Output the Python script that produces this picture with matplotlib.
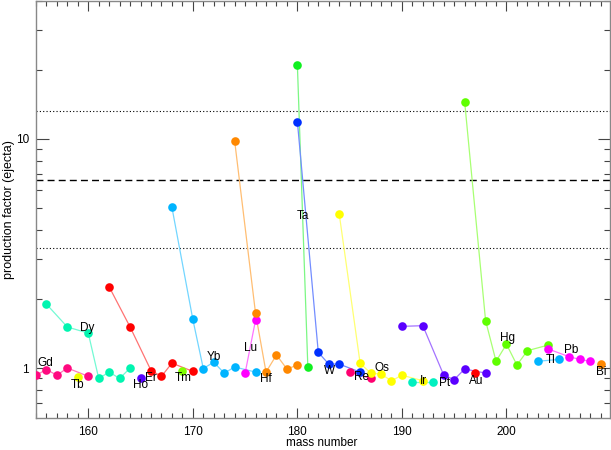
import matplotlib
matplotlib.use("Agg")
import matplotlib.pyplot as plt
import matplotlib.colors as mcolors
from matplotlib.ticker import FixedLocator, LogLocator, NullFormatter, MultipleLocator
import numpy as np

# element data: mass numbers and production factors
elements = ["Gd", "Tb", "Dy", "Ho", "Er", "Tm", "Yb", "Lu", "Hf", "Ta",
            "W", "Re", "Os", "Ir", "Pt", "Au", "Hg", "Tl", "Pb", "Bi"]

masses = [
    [155, 156, 157, 158, 160],
    [159],
    [156, 158, 160, 161, 162, 163, 164],
    [165],
    [162, 164, 166, 167, 168, 170],
    [169],
    [168, 170, 171, 172, 173, 174, 176],
    [175, 176],
    [174, 176, 177, 178, 179, 180],
    [180, 181],
    [180, 182, 183, 184, 186],
    [185, 187],
    [184, 186, 187, 188, 189, 190, 192],
    [191, 193],
    [190, 192, 194, 195, 196, 198],
    [197],
    [196, 198, 199, 200, 201, 202, 204],
    [203, 205],
    [204, 206, 207, 208],
    [209],
]

factors = [
    [0.93, 0.985, 0.93, 1.0, 0.92],
    [0.915],
    [1.90, 1.51, 1.42, 0.90, 0.96, 0.90, 1.0],
    [0.90],
    [2.26, 1.51, 0.975, 0.92, 1.05, 0.967],
    [0.975],
    [5.03, 1.63, 0.995, 1.06, 0.95, 1.01, 0.96],
    [0.95, 1.62],
    [9.8, 1.73, 0.96, 1.14, 0.99, 1.03],
    [21.0, 1.01],
    [11.9, 1.17, 1.04, 1.04, 0.96],
    [0.96, 0.90],
    [4.71, 1.05, 0.95, 0.94, 0.88, 0.93, 0.88],
    [0.87, 0.87],
    [1.52, 1.53, 0.93, 0.89, 0.99, 0.95],
    [0.95],
    [14.5, 1.61, 1.07, 1.27, 1.03, 1.19, 1.26],
    [1.07, 1.09],
    [1.21, 1.12, 1.09, 1.07],
    [1.04],
]

colors = ["#ff0a80", "#eeff00", "#00f5b0", "#5500ff", "#ff0000", "#80ff00",
          "#00b4ff", "#ff00ff", "#ff8800", "#10f020", "#0030ff", "#ff0070",
          "#ffff00", "#00f0c0", "#5a00ff", "#ff0000", "#60ff00", "#00b4ff",
          "#ff00ff", "#ff8800"]

# where each element name sits (mass, factor)
label_x = [155.9, 159.0, 159.9, 165.0, 166.0, 169.05, 172.05, 175.5, 177.0, 180.5,
           183.1, 186.1, 188.1, 192.1, 194.1, 197.15, 200.1, 204.2, 206.15, 209.1]
label_y = [1.05, 0.842, 1.50, 0.842, 0.903, 0.903, 1.114, 1.22, 0.895, 4.60,
           0.968, 0.912, 1.0, 0.877, 0.86, 0.877, 1.35, 1.08, 1.20, 0.964]

ref_level = 6.65

fig = plt.figure(figsize=(6.11, 4.5), dpi=100)
ax = fig.add_axes([36 / 611, 32 / 450, 574 / 611, 417 / 450])
ax.set_yscale("log")

for name, m, f, c in zip(elements, masses, factors, colors):
    rgb = np.array(mcolors.to_rgb(c))
    light = rgb * 0.55 + 0.45
    ax.plot(m, f, "-", color=light, lw=0.9, zorder=2)
    ax.plot(m, f, "o", color=c, ms=6.2, mec="none", zorder=3)

for name, x, y in zip(elements, label_x, label_y):
    ax.text(x, y, name, ha="center", va="center", fontsize=8.5,
            family="Liberation Sans", color="black", zorder=4)

ax.axhline(ref_level, color="black", ls=(0, (5, 3)), lw=1.0, zorder=1)
ax.axhline(ref_level * 2, color="black", ls=(0, (1, 2)), lw=0.8, zorder=1)
ax.axhline(ref_level / 2, color="black", ls=(0, (1, 2)), lw=0.8, zorder=1)

ax.set_xlim(155, 209.9)
ax.set_ylim(0.605, 40)

ax.xaxis.set_major_locator(MultipleLocator(10))
ax.xaxis.set_minor_locator(MultipleLocator(1))
ax.yaxis.set_major_locator(FixedLocator([1, 10]))
ax.yaxis.set_major_formatter(plt.FixedFormatter(["1", "10"]))
ax.yaxis.set_minor_locator(LogLocator(base=10, subs=np.arange(2, 10)))
ax.yaxis.set_minor_formatter(NullFormatter())

ax.tick_params(which="both", direction="in", top=True, right=True,
               color="#444444", labelsize=8.5, width=0.8)
ax.tick_params(axis="x", which="major", length=7)
ax.tick_params(axis="x", which="minor", length=3.5)
ax.tick_params(axis="y", which="major", length=9)
ax.tick_params(axis="y", which="minor", length=4.5)
for lab in ax.get_xticklabels() + ax.get_yticklabels():
    lab.set_family("Liberation Sans")
ax.tick_params(axis="x", pad=6)
ax.tick_params(axis="y", pad=5)

for s in ax.spines.values():
    s.set_color("#888888")
    s.set_linewidth(1.0)

ax.set_xlabel("mass number", fontsize=8.5, family="Liberation Sans")
ax.set_ylabel("production factor (ejecta)", fontsize=9, family="Liberation Sans")
ax.xaxis.set_label_coords(0.498, -0.045)
ax.yaxis.set_label_coords(-0.037, 0.5)

fig.savefig("out.png", dpi=100)
